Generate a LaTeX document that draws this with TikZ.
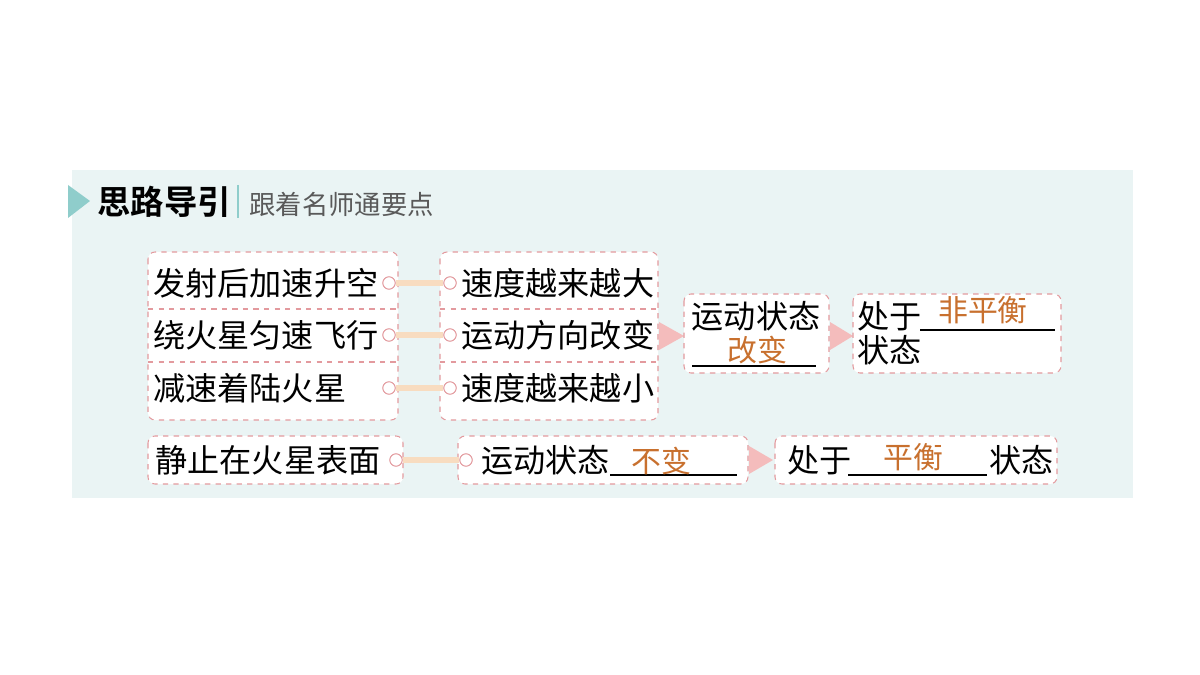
\documentclass[tikz,border=0pt]{standalone}
\usepackage{fontspec}
\newfontfamily\cjk{Noto Sans CJK SC}
\newfontfamily\cjkb{Noto Sans CJK SC Bold}
\definecolor{panel}{HTML}{EAF4F4}
\definecolor{teal}{HTML}{8FCDCB}
\definecolor{dpink}{HTML}{E39A9E}
\definecolor{apink}{HTML}{F4BCBC}
\definecolor{conn}{HTML}{F8DCC0}
\definecolor{ans}{HTML}{C8702E}
\begin{document}
\begin{tikzpicture}[x=0.02cm,y=-0.02cm,
  box/.style={draw=dpink,dashed,fill=white,rounded corners=4pt,line width=0.6pt},
  txt/.style={font=\cjk\fontsize{18.3}{20}\selectfont,inner sep=0pt},
  atxt/.style={font=\cjk\fontsize{17}{20}\selectfont,inner sep=0pt,text=ans},
  cn/.style={conn,line width=3.5pt},
  dot/.style={circle,draw=dpink,fill=white,minimum size=7pt,inner sep=0pt,line width=0.5pt},
  tri/.style={fill=apink}]
\useasboundingbox (0,0) rectangle (1200,675);
\fill[white] (0,0) rectangle (1200,675);
\fill[panel] (72,170) rectangle (1133,498);
% header
\fill[teal] (68,185) -- (90,201) -- (68,218) -- cycle;
\node[anchor=west,inner sep=0pt,font=\cjkb\fontsize{19}{22}\selectfont] (h) at (97,202) {思路导引};
\draw[teal,line width=1.6pt] (238,185) -- (238,218);
\node[anchor=west,inner sep=0pt,text=black!65,font=\cjk\fontsize{15}{18}\selectfont] (hs) at (249,204) {跟着名师通要点};
% left boxes
\draw[box] (148,252) rectangle (398,420);
\draw[dpink,dashed,line width=0.6pt] (148,309) -- (398,309) (148,362) -- (398,362);
\draw[box] (440,252) rectangle (658,420);
\draw[dpink,dashed,line width=0.6pt] (440,309) -- (658,309) (440,362) -- (658,362);
\node[txt,anchor=west] (l1) at (153,283) {发射后加速升空};
\node[txt,anchor=west] (l2) at (153,335) {绕火星匀速飞行};
\node[txt,anchor=west] (l3) at (153,388) {减速着陆火星};
\node[txt,anchor=west] (r1) at (461,283) {速度越来越大};
\node[txt,anchor=west] (r2) at (461,335) {运动方向改变};
\node[txt,anchor=west] (r3) at (461,388) {速度越来越小};
\foreach \y/\i in {283/1,335/2,388/3}{
  \node[dot] (a\i) at (389,\y) {};
  \node[dot] (b\i) at (450,\y) {};
  \draw[cn] (a\i) -- (b\i);
  \node[dot] at (389,\y) {}; \node[dot] at (450,\y) {};
}
% arrow to box3
\fill[tri] (659,322) -- (684,336) -- (659,350) -- cycle;
\draw[box] (684,294) rectangle (829,373);
\node[txt] (s1) at (756,316) {运动状态};
\draw[black,line width=0.8pt] (692,366) -- (816,366);
\node[atxt] (s1a) at (757,350) {改变};
\fill[tri] (830,322) -- (853,336) -- (830,350) -- cycle;
\draw[box] (853,294) rectangle (1061,373);
\node[txt,anchor=west] (p1) at (857,316) {处于};
\draw[black,line width=0.8pt] (920,330) -- (1055,330);
\node[atxt] (p1a) at (983,310) {非平衡};
\node[txt,anchor=west] (p2) at (857,350) {状态};
% bottom row
\draw[box] (148,436) rectangle (403,484);
\node[txt] (q1) at (268,460) {静止在火星表面};
\draw[box] (458,436) rectangle (748,484);
\node[dot] (c1) at (396,460) {};
\node[dot] (c2) at (466,460) {};
\draw[cn] (c1) -- (c2);
\node[dot] at (396,460) {}; \node[dot] at (466,460) {};
\node[txt,anchor=west] (q2) at (481,460) {运动状态};
\draw[black,line width=0.8pt] (610,475) -- (737,475);
\node[atxt] (q2a) at (661,461) {不变};
\fill[tri] (749,446) -- (773,460) -- (749,474) -- cycle;
\draw[box] (775,436) rectangle (1057,484);
\node[txt,anchor=west] (q3) at (787,460) {处于};
\draw[black,line width=0.8pt] (848,475) -- (987,475);
\node[atxt] (q3a) at (913,457) {平衡};
\node[txt,anchor=west] (q4) at (989,460) {状态};
\end{tikzpicture}
\end{document}
